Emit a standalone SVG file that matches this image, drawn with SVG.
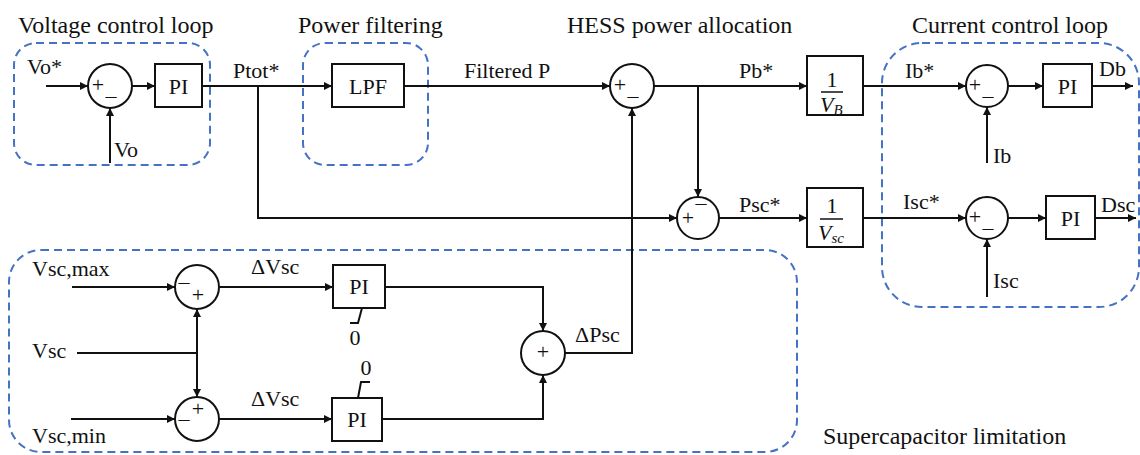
<svg xmlns="http://www.w3.org/2000/svg" width="1140" height="455" viewBox="0 0 1140 455" font-family="Liberation Serif, Times New Roman, serif">
<style>
text{font-family:'Liberation Serif','Times New Roman',Times,serif;fill:#111}
.t{font-size:24px}
.l{font-size:22px}
.c{text-anchor:middle}
.s{font-size:22px;text-anchor:middle}
.box{fill:#fff;stroke:#111;stroke-width:2}
.sum{fill:#fff;stroke:#111;stroke-width:2}
.w{fill:none;stroke:#111;stroke-width:2}
.a{fill:none;stroke:#111;stroke-width:2;marker-end:url(#ah)}
.grp{fill:none;stroke:#4472C4;stroke-width:2;stroke-dasharray:8 5}
.it{font-style:italic}
</style>
<defs>
<marker id="ah" viewBox="0 0 10 10" refX="10" refY="5" markerWidth="9" markerHeight="8" markerUnits="userSpaceOnUse" orient="auto">
<path d="M0,0 L10,5 L0,10 z" fill="#111"/>
</marker>
</defs>
<rect width="1140" height="455" fill="#fff"/>

<g id="groups">
<rect class="grp" x="14" y="43" width="196" height="122" rx="22"/>
<rect class="grp" x="303" y="43" width="125" height="122" rx="22"/>
<rect class="grp" x="882" y="43" width="257" height="264" rx="40"/>
<rect class="grp" x="9" y="250" width="788" height="202" rx="32"/>
</g>

<g id="titles">
<text class="t" x="18" y="33">Voltage control loop</text>
<text class="t" x="298" y="33">Power filtering</text>
<text class="t" x="567" y="33">HESS power allocation</text>
<text class="t" x="912" y="33">Current control loop</text>
<text class="t" x="823" y="444">Supercapacitor limitation</text>
</g>

<g id="connectors">
<line class="a" x1="46" y1="86" x2="88" y2="86"/>
<line class="a" x1="110" y1="163" x2="110" y2="108"/>
<line class="a" x1="132" y1="86" x2="155" y2="86"/>
<line class="a" x1="202" y1="86" x2="332" y2="86"/>
<polyline class="a" points="258,86 258,218 677,218"/>
<line class="a" x1="404" y1="86" x2="610" y2="86"/>
<polyline class="a" points="565,353 632,353 632,108"/>
<line class="a" x1="654" y1="86" x2="807" y2="86"/>
<line class="a" x1="698" y1="86" x2="698" y2="197"/>
<line class="a" x1="719" y1="218" x2="807" y2="218"/>
<line class="a" x1="863" y1="86" x2="966" y2="86"/>
<line class="a" x1="987" y1="163" x2="987" y2="107"/>
<line class="a" x1="1008" y1="86" x2="1043" y2="86"/>
<line class="a" x1="1092" y1="86" x2="1133" y2="86"/>
<line class="a" x1="863" y1="218" x2="966" y2="218"/>
<line class="a" x1="987" y1="297" x2="987" y2="239"/>
<line class="a" x1="1008" y1="218" x2="1046" y2="218"/>
<line class="a" x1="1095" y1="218" x2="1136" y2="218"/>
<line class="a" x1="72" y1="287" x2="175" y2="287"/>
<line class="w" x1="77" y1="353" x2="197" y2="353"/>
<line class="a" x1="197" y1="353" x2="197" y2="309"/>
<line class="a" x1="197" y1="353" x2="197" y2="397"/>
<line class="a" x1="71" y1="419" x2="175" y2="419"/>
<line class="a" x1="219" y1="287" x2="333" y2="287"/>
<line class="a" x1="219" y1="419" x2="332" y2="419"/>
<polyline class="a" points="385,287 543,287 543,331"/>
<polyline class="a" points="382,419 543,419 543,375"/>
<polyline class="w" points="362,308 358,323 350,323" stroke-width="1.6"/>
<polyline class="w" points="358,398 361,382 370,382" stroke-width="1.6"/>
</g>

<g id="labels">
<text class="l" x="27" y="74">Vo*</text>
<text class="l" x="114" y="157">Vo</text>
<text class="l" x="233" y="78">Ptot*</text>
<text class="l" x="464" y="78">Filtered P</text>
<text class="l" x="739" y="78">Pb*</text>
<text class="l" x="905" y="78">Ib*</text>
<text class="l" x="1099" y="76">Db</text>
<text class="l" x="993" y="163">Ib</text>
<text class="l" x="739" y="212">Psc*</text>
<text class="l" x="903" y="209">Isc*</text>
<text class="l" x="1101" y="212">Dsc</text>
<text class="l" x="993" y="288">Isc</text>
<text class="l" x="32" y="276">Vsc,max</text>
<text class="l" x="32" y="358">Vsc</text>
<text class="l" x="32" y="443">Vsc,min</text>
<text class="l" x="251" y="274">ΔVsc</text>
<text class="l" x="251" y="406">ΔVsc</text>
<text class="l" x="575" y="342">ΔPsc</text>
<text class="l c" x="355" y="345">0</text>
<text class="l c" x="366" y="375">0</text>
</g>

<g id="sum-vo">
<circle class="sum" cx="110" cy="86" r="22"/>
<text class="s" x="98" y="92">+</text>
<text class="s" x="111" y="103">–</text>
</g>
<g id="pi-vo">
<rect class="box" x="155" y="64" width="47" height="43"/>
<text class="l c" x="178.5" y="94">PI</text>
</g>
<g id="lpf">
<rect class="box" x="332" y="64" width="72" height="43"/>
<text class="l c" x="368" y="94">LPF</text>
</g>
<g id="sum-pb">
<circle class="sum" cx="632" cy="86" r="22"/>
<text class="s" x="620" y="92">+</text>
<text class="s" x="633" y="103">–</text>
</g>
<g id="sum-psc">
<circle class="sum" cx="698" cy="218" r="21"/>
<text class="s" x="688" y="225">+</text>
<text class="s" x="701" y="210">–</text>
</g>
<g id="inv-vb">
<rect class="box" x="807" y="56" width="56" height="59"/>
<text class="l c" x="832" y="87">1</text>
<line x1="821" y1="92" x2="843" y2="92" stroke="#111" stroke-width="1.5"/>
<text class="l it" x="820" y="112">V<tspan font-size="15" dy="3">B</tspan></text>
</g>
<g id="inv-vsc">
<rect class="box" x="807" y="188" width="56" height="59"/>
<text class="l c" x="832" y="213">1</text>
<line x1="820" y1="219" x2="843" y2="219" stroke="#111" stroke-width="1.5"/>
<text class="l it" x="818" y="240">V<tspan font-size="15" dy="3">sc</tspan></text>
</g>
<g id="sum-ib">
<circle class="sum" cx="987" cy="86" r="21"/>
<text class="s" x="975" y="92">+</text>
<text class="s" x="988" y="103">–</text>
</g>
<g id="pi-ib">
<rect class="box" x="1043" y="64" width="49" height="43"/>
<text class="l c" x="1067.5" y="94">PI</text>
</g>
<g id="sum-isc">
<circle class="sum" cx="987" cy="218" r="21"/>
<text class="s" x="975" y="224">+</text>
<text class="s" x="988" y="235">–</text>
</g>
<g id="pi-isc">
<rect class="box" x="1046" y="196" width="49" height="43"/>
<text class="l c" x="1070.5" y="226">PI</text>
</g>
<g id="sum-vmax">
<circle class="sum" cx="197" cy="287" r="22"/>
<text class="s" x="184" y="289">–</text>
<text class="s" x="198" y="302">+</text>
</g>
<g id="sum-vmin">
<circle class="sum" cx="197" cy="419" r="22"/>
<text class="s" x="198" y="416">+</text>
<text class="s" x="184" y="426">–</text>
</g>
<g id="pi-max">
<rect class="box" x="333" y="265" width="52" height="43"/>
<text class="l c" x="359" y="294">PI</text>
</g>
<g id="pi-min">
<rect class="box" x="332" y="398" width="50" height="43"/>
<text class="l c" x="357" y="427">PI</text>
</g>
<g id="sum-dpsc">
<circle class="sum" cx="543" cy="353" r="22"/>
<text class="s" x="543" y="359">+</text>
</g>
</svg>
